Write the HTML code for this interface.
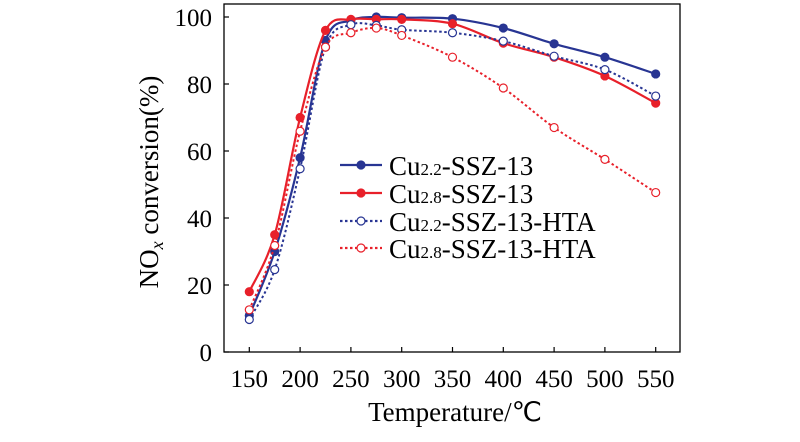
<!DOCTYPE html>
<html><head><meta charset="utf-8"><style>
html,body{margin:0;padding:0;background:#fff;}
svg{display:block;font-family:"Liberation Serif",serif;}
</style></head><body>
<svg id="chart" width="800" height="442" viewBox="0 0 800 442"></svg>
<script>
const temps=[150,175,200,225,250,275,300,350,400,450,500,550];
const cu22=[10.9,30,58,93,99,100,99.8,99.5,96.7,92,88,83];
const cu28=[18,35,70,96,99.3,99.3,99.3,98,92.2,88,82.4,74.3];
const cu22hta=[9.7,24.6,54.7,91,97.7,97.5,96.2,95.3,92.8,88.3,84.3,76.4];
const cu28hta=[12.6,31.8,65.9,91,95.3,96.7,94.5,88,78.8,67,57.5,47.6];
const xTicks=[150,200,250,300,350,400,450,500,550];
const yTicks=[0,20,40,60,80,100];
const seriesNames=["Cu2.2-SSZ-13","Cu2.8-SSZ-13","Cu2.2-SSZ-13-HTA","Cu2.8-SSZ-13-HTA"];

const NS="http://www.w3.org/2000/svg";
const svg=document.getElementById('chart');
const L=224,R=680,T=4,B=352;
const xs=v=>249.3+(v-150)*1.016;
const ys=v=>352-(v)*3.35;
function el(t,a,p){const e=document.createElementNS(NS,t);for(const k in a)e.setAttribute(k,a[k]);(p||svg).appendChild(e);return e;}

const frame=el('rect',{x:L,y:T,width:R-L,height:B-T,fill:'none',stroke:'#000','stroke-width':1.3});



xTicks.forEach(t=>{
  const tk=el('line',{x1:xs(t),x2:xs(t),y1:B,y2:B-5,stroke:'#000','stroke-width':1.2});
  
  
  const tx=el('text',{x:xs(t),y:B+35,'text-anchor':'middle','font-size':25});
  tx.textContent=t;
  
  
});
yTicks.forEach(t=>{
  const tk=el('line',{x1:L,x2:L+5,y1:ys(t),y2:ys(t),stroke:'#000','stroke-width':1.2});
  
  
  const tx=el('text',{x:L-12,y:ys(t)+9,'text-anchor':'end','font-size':25});
  tx.textContent=t;
  
  
});
const xl=el('text',{x:455,y:421,'text-anchor':'middle','font-size':27});
xl.textContent='Temperature/℃';


const yl=el('text',{transform:'translate(158,182) rotate(-90)','text-anchor':'middle','font-size':27});
yl.innerHTML='NO<tspan font-style="italic" font-size="18" dy="5">x</tspan><tspan dy="-5"> conversion(%)</tspan>';



function smooth(vals){
  const p=temps.map((t,i)=>[xs(t),ys(vals[i])]);
  let d='M'+p[0][0]+','+p[0][1];
  for(let i=0;i<p.length-1;i++){
    const p0=p[i-1]||p[i],p1=p[i],p2=p[i+1],p3=p[i+2]||p[i+1];
    const c1=[p1[0]+(p2[0]-p0[0])/6,p1[1]+(p2[1]-p0[1])/6];
    const c2=[p2[0]-(p3[0]-p1[0])/6,p2[1]-(p3[1]-p1[1])/6];
    d+=`C${c1[0]},${c1[1]} ${c2[0]},${c2[1]} ${p2[0]},${p2[1]}`;
  }
  return d;
}
const BLUE='#283593',RED='#e8202a';
const defs=[[cu22,BLUE,false],[cu28,RED,false],[cu22hta,BLUE,true],[cu28hta,RED,true]];
const names=['series-cu22','series-cu28','series-cu22-hta','series-cu28-hta'];
defs.forEach((s,k)=>{
  const g=el('g',{});
  
  
  const ln=el('path',{d:smooth(s[0]),fill:'none',stroke:s[1],'stroke-width':s[2]?2:2.2,'stroke-dasharray':s[2]?'2.5,2.5':'none'},g);
  
  
  s[0].forEach((v,i)=>{
    const c=el('circle',{cx:xs(temps[i]),cy:ys(v),r:4,fill:s[2]?'#fff':s[1],stroke:s[1],'stroke-width':1.2},g);
    
    
  });
});
const lg=el('g',{});


const rows=[165,193,221,248];
defs.forEach((s,k)=>{
  const y=rows[k];
  const ln=el('line',{x1:340,x2:382,y1:y,y2:y,stroke:s[1],'stroke-width':2.2,'stroke-dasharray':s[2]?'2.5,2.5':'none'},lg);
  
  
  const c=el('circle',{cx:361,cy:y,r:4,fill:s[2]?'#fff':s[1],stroke:s[1],'stroke-width':1.2},lg);
  
  
  const nm=seriesNames[k];
  const sub=nm.slice(2,5), rest=nm.slice(5);
  const t=el('text',{x:389,y:y+10,'font-size':27},lg);
  t.innerHTML=`Cu<tspan font-size="17">${sub}</tspan>${rest}`;
  
  
});
</script>
</body></html>
